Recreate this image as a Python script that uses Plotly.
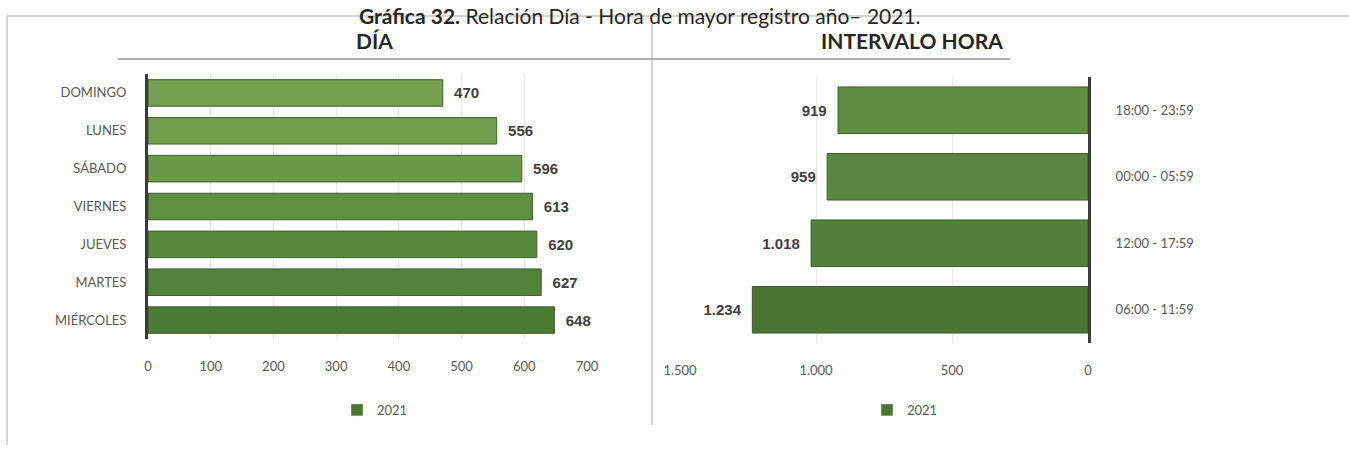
import plotly.graph_objects as go

# ── data ────────────────────────────────────────────────────────────────────
days = ["DOMINGO", "LUNES", "SÁBADO", "VIERNES", "JUEVES", "MARTES", "MIÉRCOLES"]
day_counts = [470, 556, 596, 613, 620, 627, 648]

hours = ["18:00 - 23:59", "00:00 - 05:59", "12:00 - 17:59", "06:00 - 11:59"]
hour_counts = [919, 959, 1018, 1234]

series_name = "2021"

# ── styling ─────────────────────────────────────────────────────────────────
day_colors = ["#739f4f", "#70a04d", "#6a9a48", "#5f8f41", "#59893d", "#53833a", "#4b7a33"]
hour_colors = ["#5f8d44", "#5a8840", "#527f3a", "#4a7432"]
LEGEND_GREEN = "#4b7733"
TICK_FONT = dict(family="Lato, Open Sans, sans-serif", size=13, color="#595959")
LABEL_FONT = dict(family="Liberation Sans, Arial, sans-serif", size=15, color="#404040")

W, H = 1349, 451
NBSP = "\u00a0"


def px_x(x):
    return x / W


def px_y(y):
    return 1 - y / H


fig = go.Figure()

fig.add_trace(
    go.Bar(
        x=day_counts,
        y=days,
        orientation="h",
        name=series_name,
        showlegend=False,
        marker=dict(color=day_colors, line=dict(color="#3d5f2a", width=1)),
        texttemplate=NBSP * 2 + "<b>%{x:,d}</b>",
        textposition="outside",
        textfont=LABEL_FONT,
        cliponaxis=False,
        xaxis="x",
        yaxis="y",
    )
)

fig.add_trace(
    go.Bar(
        x=hour_counts,
        y=hours,
        orientation="h",
        name=series_name,
        showlegend=False,
        marker=dict(color=hour_colors, line=dict(color="#3d5f2a", width=1)),
        texttemplate="<b>%{x:,d}</b>" + NBSP * 2,
        textposition="outside",
        textfont=LABEL_FONT,
        cliponaxis=False,
        xaxis="x2",
        yaxis="y2",
    )
)

# legend entries (one per panel, in the darker series green)
for xa, ya, lg in (("x", "y", "legend"), ("x2", "y2", "legend2")):
    fig.add_trace(
        go.Bar(
            x=[None], y=[None], orientation="h", name=series_name,
            marker_color=LEGEND_GREEN, xaxis=xa, yaxis=ya, legend=lg,
            hoverinfo="skip",
        )
    )

grid = dict(showgrid=True, gridcolor="#e6e6e6", gridwidth=1, zeroline=False, automargin=False)

fig.update_layout(
    width=W,
    height=H,
    margin=dict(l=0, r=0, t=0, b=0),
    paper_bgcolor="white",
    plot_bgcolor="white",
    separators=",.",
    bargap=0.3,
    barmode="overlay",
    xaxis=dict(
        domain=[px_x(148), px_x(587)],
        range=[0, 700],
        dtick=100,
        tickfont=TICK_FONT,
        ticklabelstandoff=18,
        anchor="y",
        **grid,
    ),
    yaxis=dict(
        domain=[px_y(339), px_y(74)],
        autorange="reversed",
        tickfont=TICK_FONT,
        ticklabelstandoff=16,
        showline=True,
        linecolor="#3a3a3a",
        linewidth=3,
        automargin=False,
        anchor="x",
    ),
    xaxis2=dict(
        domain=[px_x(680), px_x(1088)],
        range=[1500, 0],
        dtick=500,
        tickformat=",d",
        tickfont=TICK_FONT,
        ticklabelstandoff=18,
        anchor="y2",
        **grid,
    ),
    yaxis2=dict(
        domain=[px_y(343), px_y(77)],
        autorange="reversed",
        side="right",
        tickfont=TICK_FONT,
        ticklabelstandoff=22,
        showline=True,
        linecolor="#3a3a3a",
        linewidth=3,
        automargin=False,
        anchor="x2",
    ),
    legend=dict(
        orientation="h",
        x=px_x(375),
        y=px_y(410),
        xanchor="center",
        yanchor="middle",
        font=TICK_FONT,
        itemwidth=30,
        bgcolor="rgba(0,0,0,0)",
    ),
    legend2=dict(
        orientation="h",
        x=px_x(905),
        y=px_y(410),
        xanchor="center",
        yanchor="middle",
        font=TICK_FONT,
        itemwidth=30,
        bgcolor="rgba(0,0,0,0)",
    ),
    showlegend=True,
)

# frame lines: top rule, left border, centre divider, rule under subtitles
frame = dict(type="line", xref="paper", yref="paper", line=dict(color="#c8c8c8", width=1.5))
fig.add_shape(x0=px_x(7), x1=1, y0=px_y(16), y1=px_y(16), **frame)
fig.add_shape(x0=px_x(7), x1=px_x(7), y0=px_y(16), y1=px_y(445), **frame)
fig.add_shape(x0=px_x(652), x1=px_x(652), y0=px_y(24), y1=px_y(425), **frame)
fig.add_shape(
    type="line", xref="paper", yref="paper",
    x0=px_x(118), x1=px_x(1010), y0=px_y(59), y1=px_y(59),
    line=dict(color="#9a9a9a", width=1.5),
)

# titles
fig.add_annotation(
    text="<b>Gráfica 32.</b> Relación Día - Hora de mayor registro año– 2021.",
    xref="paper", yref="paper", x=px_x(640), y=1, yshift=-1,
    xanchor="center", yanchor="top", showarrow=False,
    font=dict(family="Lato, Open Sans, sans-serif", size=21, color="#262626"),
)
sub_font = dict(family="Lato, Open Sans, sans-serif", size=21, color="#262626")
fig.add_annotation(
    text="<b>DÍA</b>", xref="paper", yref="paper", x=px_x(375), y=px_y(40),
    xanchor="center", yanchor="middle", showarrow=False, font=sub_font,
)
fig.add_annotation(
    text="<b>INTERVALO HORA</b>", xref="paper", yref="paper", x=px_x(912), y=px_y(40),
    xanchor="center", yanchor="middle", showarrow=False, font=sub_font,
)

fig.write_html(
    "out.html",
    config={"displayModeBar": False},
    post_script="document.body.style.margin='0';document.body.style.overflow='hidden';",
)
